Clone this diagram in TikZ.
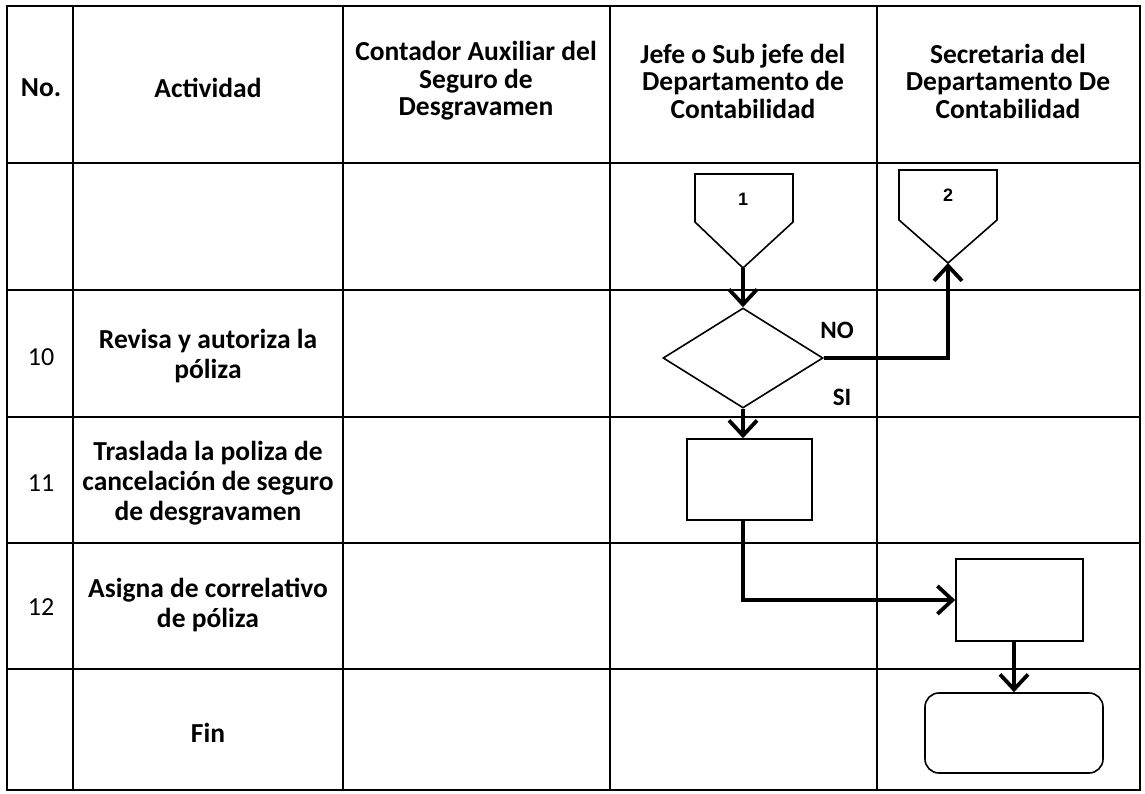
\documentclass[tikz,border=0pt]{standalone}
\usepackage{fontspec}
\setmainfont{Carlito}
\newfontfamily\arialf{Liberation Sans}
\usetikzlibrary{shapes.geometric,arrows.meta}
\begin{document}
\begin{tikzpicture}[x=1pt,y=-1pt,
  grid/.style={line width=2.4pt},
  shapeline/.style={draw,line width=1.6pt},
  flow/.style={line width=3.8pt,-{Straight Barb[length=15pt,width=28pt]}},
  hdr/.style={align=center,font=\fontsize{27.5}{27.5}\selectfont\bfseries,inner sep=0},
  act/.style={align=center,font=\fontsize{27.5}{30}\selectfont\bfseries,inner sep=0},
  num/.style={font=\fontsize{26}{26}\selectfont,inner sep=0},
  lbl/.style={font=\fontsize{25}{25}\selectfont\bfseries,inner sep=0},
  conlbl/.style={font=\arialf\fontsize{18}{18}\selectfont\bfseries,inner sep=0},
  proc/.style={shapeline,rectangle,inner sep=0},
]
\useasboundingbox (0,0) rectangle (1145,794);
% table grid
\draw[grid] (7,6) rectangle (1140,790);
\foreach \x in {73,343,610,877} \draw[grid] (\x,6) -- (\x,790);
\foreach \y in {163,290,417,543,669} \draw[grid] (7,\y) -- (1140,\y);
% header
\node[hdr] (hno) at (41,88) {No.};
\node[hdr] (hact) at (208,88) {Actividad};
\node[hdr] (hcont) at (476,81) {Contador Auxiliar del\\Seguro de\\Desgravamen};
\node[hdr] (hjefe) at (743,81) {Jefe o Sub jefe del\\Departamento de\\Contabilidad};
\node[hdr] (hsec) at (1008,81) {Secretaria del\\Departamento De\\Contabilidad};
% rows
\node[num] (n10) at (41,357) {10};
\node[act] (a10) at (208,356) {Revisa y autoriza la\\póliza};
\node[num] (n11) at (41,483) {11};
\node[act] (a11) at (208,483) {Traslada la poliza de\\cancelación de seguro\\de desgravamen};
\node[num] (n12) at (41,607) {12};
\node[act] (a12) at (208,605) {Asigna de correlativo\\de póliza};
\node[act] (afin) at (208,733) {Fin};
% off-page connectors
\draw[line width=1.6pt,line join=miter] (695,174) -- (793,174) -- (793,222) -- (743,268) -- (695,222) -- cycle;
\coordinate (c1tip) at (743,268);
\node[conlbl] (c1) at (743,199) {1};
\draw[line width=1.6pt,line join=miter] (899,170) -- (997,170) -- (997,220) -- (948,263) -- (899,220) -- cycle;
\coordinate (c2tip) at (948,263);
\node[conlbl] (c2) at (948,195) {2};
% decision
\node[shapeline,diamond,aspect=1.6,minimum width=160pt,minimum height=100pt,inner sep=0] (dec) at (743,358) {};
\node[lbl] (no) at (837,330) {NO};
\node[lbl] (si) at (842,397) {SI};
% process boxes
\node[proc,minimum width=125pt,minimum height=81pt] (b1) at (749.5,479.5) {};
\node[proc,minimum width=127pt,minimum height=82pt] (b2) at (1019.5,600) {};
\node[shapeline,rectangle,rounded corners=14pt,minimum width=178pt,minimum height=80pt,inner sep=0] (fin) at (1014,733) {};
% flows
\draw[flow] (c1tip) -- (dec.north);
\draw[flow] (dec.east) -| (c2tip);
\draw[flow] (dec.south) -- (dec.south |- b1.north);
\draw[flow] (dec.south |- b1.south) |- (b2.west);
\draw[flow] (fin.north |- b2.south) -- (fin.north);
\end{tikzpicture}
\end{document}
